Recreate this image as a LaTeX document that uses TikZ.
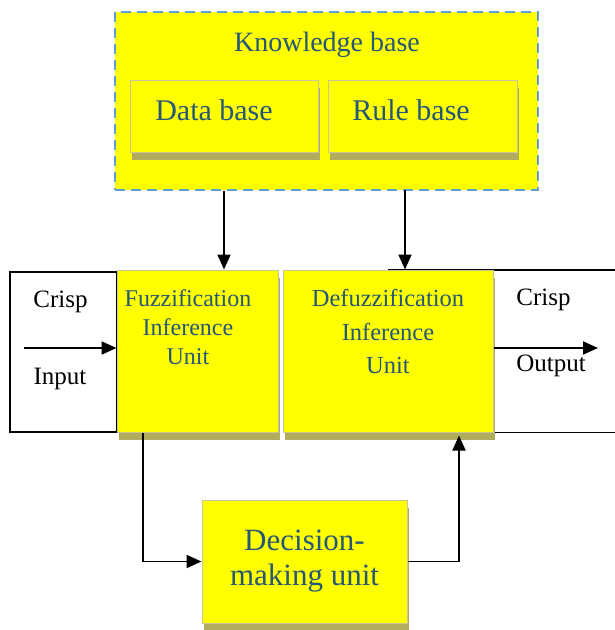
\documentclass[tikz,border=0pt]{standalone}
\usepackage{fontspec}
\setmainfont{Liberation Serif}
\usetikzlibrary{arrows.meta, positioning, shadows}
\definecolor{kbyellow}{RGB}{255,255,0}
\definecolor{kbtext}{RGB}{38,88,118}
\definecolor{kbdash}{RGB}{95,160,215}
\definecolor{kbedge}{RGB}{200,200,150}
\definecolor{kbshade}{RGB}{178,172,95}

\begin{document}
\begin{tikzpicture}[
  x=1pt, y=-1pt,
  kbframe/.style={draw=kbdash, dash pattern=on 10pt off 6pt, line width=2.6pt, fill=kbyellow},
  ybox/.style={draw=kbedge, line width=1pt, fill=kbyellow, drop shadow={shadow xshift=2pt, shadow yshift=-8pt, fill=kbshade, opacity=1}},
  wbox/.style={draw=black, line width=1.6pt, fill=white},
  ytext/.style={text=kbtext, align=center, inner sep=0pt},
  btext/.style={text=black, font=\fontsize{25}{30}\selectfont, inner sep=0pt},
  conn/.style={line width=1.3pt},
  arr/.style={-{Triangle[length=15pt, width=13pt]}, line width=1.9pt},
]
  \useasboundingbox (0,0) rectangle (615,630);

  % Knowledge base
  \node[kbframe, minimum width=423pt, minimum height=178pt] (kb) at (326.5,101) {};
  \node[ytext, font=\fontsize{28}{32}\selectfont, anchor=north] (kbtitle) at (327,32) {Knowledge base};
  \node[ybox, minimum width=188pt, minimum height=72pt] (data) at (224,116) {};
  \node[ytext, font=\fontsize{30}{34}\selectfont] (datatext) at (214,110) {Data base};
  \node[ybox, minimum width=189pt, minimum height=72pt] (rule) at (422.5,116) {};
  \node[ytext, font=\fontsize{30}{34}\selectfont] (ruletext) at (411,110) {Rule base};

  % Input side
  \node[wbox, minimum width=107pt, minimum height=160pt] (inbox) at (63.5,352) {};
  \node[btext] (incrisp) at (60.5,301.5) {Crisp};
  \node[btext] (ininput) at (60,379) {Input};

  % Free ends
  \coordinate (outr) at (598,348);
  \coordinate (inl) at (24,348);
  \coordinate (rx) at (405,190);

  % Inference units
  \node[ybox, minimum width=161pt, minimum height=162pt] (fuzz) at (197.5,351) {};
  \node[ytext, font=\fontsize{24}{29}\selectfont, anchor=north] (fuzztext) at (188,289) {Fuzzification\\Inference\\Unit};
  \draw[conn] (388,270) -- (615,270);
  \draw[conn] (388,432.5) -- (615,432.5);
  \node[ybox, minimum width=210pt, minimum height=162pt] (defuzz) at (388,351) {};
  \node[ytext, font=\fontsize{24.5}{33.5}\selectfont, anchor=north] (defuzztext) at (388,289.5) {Defuzzification\\Inference\\Unit};
  \node[btext] (outcrisp) at (543.5,300) {Crisp};
  \node[btext] (outoutput) at (551,366) {Output};

  % Decision-making unit
  \node[ybox, ytext, minimum width=205pt, minimum height=123pt, font=\fontsize{31}{35}\selectfont] (dec) at (304.5,561.5) {Decision-\\making unit};

  \draw[arr] (data |- kb.south) -- (data |- fuzz.north);
  \draw[arr] (rx) -- (rx |- defuzz.north);
  \draw[arr] (inl) -- (inl -| fuzz.west);
  \draw[arr] (outr -| defuzz.east) -- (outr);
  \draw[arr] ([xshift=-54.5pt]fuzz.south) |- (dec.west);
  \draw[arr] (dec.east) -| ([xshift=71pt, yshift=-3pt]defuzz.south);
\end{tikzpicture}
\end{document}
